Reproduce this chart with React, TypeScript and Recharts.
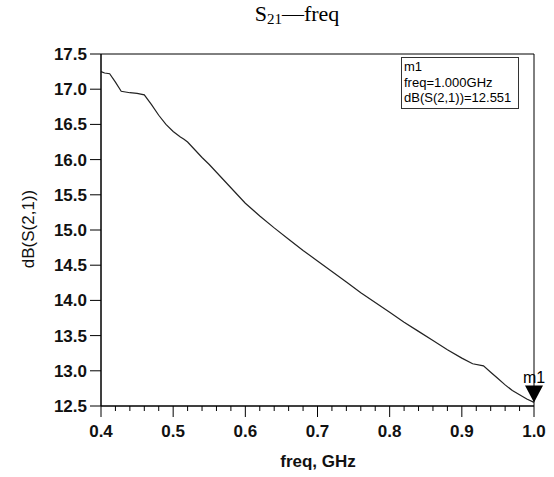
import React from "react";
import { LineChart, Line, XAxis, YAxis, Scatter, ReferenceArea } from "recharts";

// S21 sweep
const freqGHz = [
  0.4, 0.405, 0.412, 0.42, 0.428, 0.44, 0.45, 0.46, 0.47, 0.48, 0.49, 0.5, 0.51, 0.515, 0.52, 0.53, 0.54,
  0.55, 0.56, 0.57, 0.58, 0.59, 0.6, 0.62, 0.64, 0.66, 0.68, 0.7, 0.72, 0.74, 0.76, 0.78, 0.8, 0.82,
  0.84, 0.86, 0.88, 0.9, 0.915, 0.93, 0.94, 0.95, 0.96, 0.97, 0.98, 0.99, 1.0,
];
const s21dB = [
  17.25, 17.23, 17.22, 17.1, 16.97, 16.95, 16.94, 16.92, 16.78, 16.63, 16.5, 16.4, 16.32, 16.29, 16.25,
  16.14, 16.03, 15.93, 15.82, 15.71, 15.6, 15.49, 15.38, 15.2, 15.03, 14.87, 14.71, 14.56, 14.41,
  14.26, 14.11, 13.97, 13.83, 13.69, 13.56, 13.43, 13.3, 13.18, 13.1, 13.07, 12.98, 12.89, 12.8, 12.72,
  12.66, 12.6, 12.551,
];

const xTicks = [
  0.4, 0.42, 0.44, 0.46, 0.48, 0.5, 0.52, 0.54, 0.56, 0.58, 0.6, 0.62, 0.64, 0.66, 0.68, 0.7, 0.72, 0.74,
  0.76, 0.78, 0.8, 0.82, 0.84, 0.86, 0.88, 0.9, 0.92, 0.94, 0.96, 0.98, 1.0,
];
const yTicks = [12.5, 13.0, 13.5, 14.0, 14.5, 15.0, 15.5, 16.0, 16.5, 17.0, 17.5];

const markerName = "m1";
const markerFreq = 1.0;
const markerValue = 12.551;

const data = freqGHz.map((f, i) => ({ freq: f, s21: s21dB[i] }));
const markerData = [{ freq: markerFreq, s21: markerValue }];

const FONT = "'Liberation Sans', Arial, sans-serif";

function XTick(props: any) {
  const { x, y, payload } = props;
  const v = payload.value as number;
  const major = Math.abs(v * 10 - Math.round(v * 10)) < 1e-6;
  return (
    <g>
      <line x1={x} x2={x} y1={y} y2={y + (major ? 11 : 5)} stroke="#000" strokeWidth={1} />
      {major && (
        <text x={x} y={y + 31} textAnchor="middle" fontSize={17} fontWeight="bold" fontFamily={FONT} fill="#111">
          {v.toFixed(1)}
        </text>
      )}
    </g>
  );
}

function MarkerShape(props: any) {
  const { cx, cy } = props;
  return (
    <g>
      <path d={`M${cx - 9},${cy - 17} L${cx + 9},${cy - 17} L${cx},${cy} Z`} fill="#000" />
      <text x={cx} y={cy - 19} textAnchor="middle" fontSize={16} fontFamily={FONT} fill="#000">
        {markerName}
      </text>
    </g>
  );
}

export default function App() {
  return (
    <div style={{ position: "absolute", left: 0, top: 0, width: 554, height: 477, background: "#fff" }}>
      <div
        style={{
          position: "absolute",
          left: 205,
          top: 1,
          width: 184,
          textAlign: "center",
          fontFamily: "'Liberation Serif', 'Times New Roman', serif",
          fontSize: 22,
          color: "#000",
        }}
      >
        S<sub style={{ fontSize: 15, verticalAlign: "-3px" }}>21</sub>—freq
      </div>

      <LineChart width={554} height={477} data={data} margin={{ top: 54, right: 20, bottom: 0, left: 0 }}>
        <XAxis
          dataKey="freq"
          type="number"
          domain={[0.4, 1.0]}
          ticks={xTicks}
          interval={0}
          height={71}
          tickSize={0}
          tickMargin={0}
          tickLine={false}
          tick={<XTick />}
          axisLine={{ stroke: "#000" }}
        />
        <YAxis
          type="number"
          domain={[12.5, 17.5]}
          ticks={yTicks}
          interval={0}
          width={101}
          tickSize={11}
          tickMargin={3}
          tickLine={{ stroke: "#000" }}
          axisLine={{ stroke: "#000" }}
          tickFormatter={(v: number) => v.toFixed(1)}
          tick={{ fontSize: 17, fontWeight: "bold", fontFamily: FONT, fill: "#111" }}
        />
        <ReferenceArea x1={0.4} x2={1.0} y1={12.5} y2={17.5} fill="none" stroke="#000" strokeWidth={1} />
        <Line
          dataKey="s21"
          type="linear"
          stroke="#222"
          strokeWidth={1.2}
          dot={false}
          activeDot={false}
          isAnimationActive={false}
        />
        <Scatter data={markerData} dataKey="s21" shape={<MarkerShape />} isAnimationActive={false} />
      </LineChart>

      <div
        style={{
          position: "absolute",
          left: 29,
          top: 229,
          transform: "translate(-50%, -50%) rotate(-90deg)",
          fontFamily: FONT,
          fontSize: 17,
          whiteSpace: "nowrap",
          color: "#111",
        }}
      >
        dB(S(2,1))
      </div>
      <div
        style={{
          position: "absolute",
          left: 218,
          top: 452,
          width: 200,
          textAlign: "center",
          fontFamily: FONT,
          fontSize: 17,
          fontWeight: "bold",
          color: "#111",
        }}
      >
        freq, GHz
      </div>

      <div
        style={{
          position: "absolute",
          left: 401,
          top: 57,
          width: 112,
          height: 48,
          border: "1px solid #333",
          padding: "1px 2px",
          fontFamily: FONT,
          fontSize: 13,
          lineHeight: "15.5px",
          color: "#000",
          whiteSpace: "nowrap",
        }}
      >
        <div>{markerName}</div>
        <div>freq={markerFreq.toFixed(3)}GHz</div>
        <div>dB(S(2,1))={markerValue.toFixed(3)}</div>
      </div>
    </div>
  );
}
